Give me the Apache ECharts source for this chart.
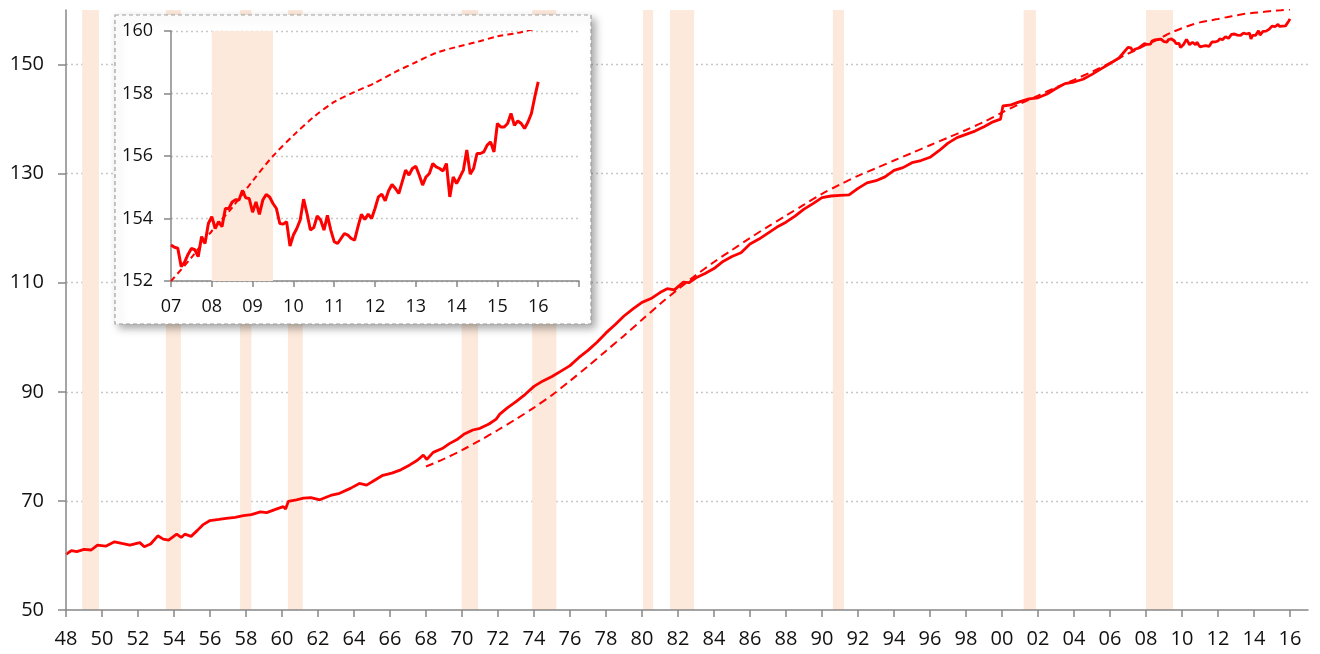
<!DOCTYPE html>
<html><head><meta charset="utf-8">
<script src="https://cdn.jsdelivr.net/npm/echarts@6/dist/echarts.min.js"></script>
<style>html,body{margin:0;padding:0;background:#fff}#c{width:1320px;height:654px}</style>
</head><body><div id="c"></div>
<script>
// Main series 1948-2006 (irregular sampling)
const mainYears = [1948.0,1948.3,1948.6,1949.0,1949.4,1949.75,1950.2,1950.7,1951.1,1951.55,1952.1,1952.35,1952.7,1953.1,1953.4,1953.7,1954.15,1954.4,1954.6,1954.95,1955.3,1955.6,1956.0,1956.5,1956.9,1957.4,1957.85,1958.3,1958.8,1959.15,1959.6,1960.07,1960.2,1960.35,1960.8,1961.2,1961.6,1962.1,1962.7,1963.2,1963.8,1964.3,1964.7,1965.1,1965.6,1966.1,1966.6,1967.1,1967.5,1967.85,1968.04,1968.4,1968.9,1969.3,1969.7,1970.1,1970.6,1971.0,1971.5,1971.9,1972.1,1972.5,1973.0,1973.5,1974.0,1974.5,1975.0,1975.5,1976.0,1976.5,1977.0,1977.5,1978.0,1978.5,1979.0,1979.5,1980.0,1980.5,1981.0,1981.4,1981.8,1982.3,1982.6,1983.0,1983.5,1984.0,1984.5,1985.0,1985.5,1986.0,1986.5,1987.0,1987.5,1988.0,1988.5,1989.0,1989.5,1990.0,1990.5,1991.0,1991.5,1992.0,1992.5,1993.0,1993.5,1994.0,1994.5,1995.0,1995.5,1996.0,1996.5,1997.0,1997.5,1998.0,1998.5,1999.0,1999.5,1999.92,2000.05,2000.5,2001.0,2001.5,2002.0,2002.5,2003.0,2003.5,2004.0,2004.5,2005.0,2005.5,2006.0,2006.5];
const mainValues = [60.2,60.9,60.7,61.1,61.0,61.9,61.7,62.5,62.2,61.9,62.35,61.6,62.1,63.6,63.0,62.8,63.9,63.3,63.9,63.5,64.6,65.6,66.4,66.6,66.8,67.0,67.3,67.5,68.0,67.85,68.4,68.95,68.5,69.9,70.2,70.5,70.6,70.2,71.0,71.4,72.3,73.2,72.9,73.7,74.7,75.1,75.7,76.6,77.4,78.4,77.6,78.9,79.6,80.5,81.2,82.2,83.0,83.3,84.1,85.0,85.9,87.0,88.2,89.5,91.0,92.0,92.8,93.8,94.8,96.3,97.6,99.1,100.8,102.3,103.9,105.2,106.4,107.1,108.2,108.9,108.7,110.1,110.0,110.9,111.7,112.6,113.9,114.8,115.5,117.1,118.0,119.1,120.2,121.1,122.2,123.5,124.5,125.6,125.9,126.0,126.1,127.3,128.3,128.7,129.4,130.6,131.1,132.0,132.4,133.0,134.2,135.6,136.6,137.2,137.8,138.6,139.5,140.0,142.4,142.6,143.2,143.7,143.9,144.6,145.6,146.5,146.8,147.3,148.2,149.2,150.2,151.2];
// Monthly values from Jan 2007 to Jan 2016
const monthlyStart = 2007;
const monthlyValues = [
153.15,153.08,153.05,152.46,152.6,152.85,153.04,153.0,152.78,153.42,153.2,153.84,
154.06,153.68,153.9,153.74,154.32,154.32,154.53,154.6,154.59,154.9,154.66,154.64,
154.2,154.53,154.13,154.59,154.77,154.69,154.48,154.32,153.84,153.82,153.9,153.12,
153.47,153.68,153.95,154.62,154.16,153.63,153.71,154.08,153.95,153.63,154.1,153.63,
153.26,153.2,153.36,153.52,153.47,153.36,153.31,153.74,154.13,153.97,154.14,154.0,
154.32,154.69,154.78,154.57,154.89,155.09,154.96,154.8,155.17,155.55,155.39,155.6,
155.67,155.39,155.07,155.33,155.44,155.76,155.65,155.6,155.52,155.76,154.69,155.33,
155.12,155.33,155.55,156.19,155.42,155.6,156.08,156.08,156.13,156.35,156.45,156.13,
157.04,156.93,156.93,157.04,157.36,156.98,157.12,157.04,156.88,157.09,157.36,157.89,
158.37];
// Trend (dashed)
const trendYears = [1968,1969,1970,1971,1972,1973,1974,1975,1976,1977,1978,1979,1980,1981,1982,1983,1984,1985,1986,1987,1988,1989,1990,1991,1992,1993,1994,1995,1996,1997,1998,1999,2000,2001,2002,2003,2004,2005,2006,2007,2007.5,2008,2008.5,2009,2009.5,2010,2010.5,2011,2011.5,2012,2012.5,2013,2013.5,2014,2014.5,2015,2015.5,2016];
const trendValues = [76.3,77.7,79.3,81.1,83.0,85.0,87.1,89.4,92.0,94.7,97.5,100.3,103.2,106.1,108.8,111.4,113.8,116.0,118.2,120.3,122.3,124.3,126.3,128.0,129.6,131.0,132.4,133.8,135.2,136.6,138.0,139.5,141.2,142.8,144.3,145.8,147.2,148.7,150.3,152.0,152.75,153.6,154.35,155.2,156.0,156.66,157.25,157.73,158.05,158.34,158.69,159.0,159.3,159.49,159.65,159.83,159.94,160.1];
// Recessions
const recessionStart = [1948.9,1953.55,1957.67,1960.33,1969.98,1973.9,1980.06,1981.56,1990.6,2001.2,2008.0];
const recessionEnd   = [1949.83,1954.38,1958.3,1961.15,1970.9,1975.24,1980.62,1982.9,1991.22,2001.88,2009.5];
// Tick labels
const mainXTicks = [1948,1950,1952,1954,1956,1958,1960,1962,1964,1966,1968,1970,1972,1974,1976,1978,1980,1982,1984,1986,1988,1990,1992,1994,1996,1998,2000,2002,2004,2006,2008,2010,2012,2014,2016];
const mainYTicks = [50,70,90,110,130,150];
const mainYGrid = [70,90,110,130,150];
const insetYTicks = [152,154,156,158,160];

const FONT = "'Open Sans', 'Noto Sans', sans-serif";
const AXC = '#878787';
const REC = '#FCE9DB';
const yy = v => String(Math.round(v) % 100).padStart(2, '0');

const mainData = mainYears.map((t, i) => [t, mainValues[i]])
  .concat(monthlyValues.map((v, i) => [monthlyStart + i / 12, v]));
const trendData = trendYears.map((t, i) => [t, trendValues[i]]);
const insetMain = monthlyValues.map((v, i) => [monthlyStart + i / 12, v]);
const insetTrend = trendData.filter(d => d[0] >= 2007);
const recAreas = recessionStart.map((s, i) => [{xAxis: s}, {xAxis: recessionEnd[i]}]);
const insetRec = recAreas.filter(a => a[1].xAxis > 2007);

const chart = echarts.init(document.getElementById('c'), null, {renderer: 'canvas'});
chart.setOption({
  animation: false,
  backgroundColor: '#fff',
  grid: [
    {left: 66, right: 12, top: 10, bottom: 44, containLabel: false},
    {left: 171, right: 741, top: 31, bottom: 373, containLabel: false}
  ],
  graphic: {elements: [{
    type: 'rect', z: 10, silent: true,
    shape: {x: 115, y: 15, width: 476, height: 309},
    style: {fill: '#fff', stroke: '#a0a0a0', lineWidth: 1.2, lineDash: [4, 3],
      shadowBlur: 8, shadowOffsetX: 4, shadowOffsetY: 4, shadowColor: 'rgba(0,0,0,0.35)'}
  }]},
  xAxis: [
    {type: 'value', gridIndex: 0, min: 1948, max: 2017, z: 4,
     axisLine: {show: true, onZero: false, lineStyle: {color: AXC, width: 1.5}},
     axisTick: {show: true, length: 7, customValues: mainXTicks, lineStyle: {color: AXC, width: 1.5}},
     axisLabel: {customValues: mainXTicks, formatter: yy, fontSize: 20, fontFamily: FONT, color: '#111', margin: 19},
     splitLine: {show: false}},
    {type: 'value', gridIndex: 1, min: 2007, max: 2017, interval: 1, z: 11,
     axisLine: {show: true, onZero: false, lineStyle: {color: AXC, width: 1.5}},
     axisTick: {show: true, length: 6, lineStyle: {color: AXC, width: 1.5}},
     axisLabel: {formatter: v => v >= 2017 ? '' : yy(v), fontSize: 18, fontFamily: FONT, color: '#111', margin: 17},
     splitLine: {show: false}}
  ],
  yAxis: [
    {type: 'value', gridIndex: 0, min: 50, max: 160, z: 4,
     axisLine: {show: true, onZero: false, lineStyle: {color: AXC, width: 1.5}},
     axisTick: {show: true, length: 8, customValues: mainYTicks, lineStyle: {color: AXC, width: 1.5}},
     axisLabel: {customValues: mainYTicks, fontSize: 20, fontFamily: FONT, color: '#111', margin: 22},
     splitLine: {show: false}},
    {type: 'value', gridIndex: 1, min: 152, max: 160, interval: 2, z: 11,
     axisLine: {show: true, onZero: false, lineStyle: {color: AXC, width: 1.5}},
     axisTick: {show: true, length: 7, lineStyle: {color: AXC, width: 1.5}},
     axisLabel: {fontSize: 18, fontFamily: FONT, color: '#111', margin: 18},
     splitLine: {show: true, lineStyle: {color: '#c8c8c8', type: [2, 3], width: 1.3}}}
  ],
  series: [
    {type: 'line', name: 'trend', xAxisIndex: 0, yAxisIndex: 0, z: 3, data: trendData,
     showSymbol: false, symbol: 'none', smooth: 0.3, clip: true,
     lineStyle: {color: '#FF0000', width: 2, type: [8, 5]}},
    {type: 'line', name: 'labor', xAxisIndex: 0, yAxisIndex: 0, z: 3, data: mainData,
     showSymbol: false, symbol: 'none', clip: true,
     lineStyle: {color: '#FF0000', width: 2.8},
     markArea: {silent: true, z: 2, itemStyle: {color: REC}, data: recAreas},
     markLine: {silent: true, z: 1, symbol: ['none', 'none'], label: {show: false},
       lineStyle: {color: '#c8c8c8', type: [2, 3], width: 1.3},
       data: mainYGrid.map(v => ({yAxis: v}))}},
    {type: 'line', name: 'insetTrend', xAxisIndex: 1, yAxisIndex: 1, z: 13, data: insetTrend,
     showSymbol: false, symbol: 'none', smooth: 0.3, clip: true,
     lineStyle: {color: '#FF0000', width: 2, type: [6, 4]}},
    {type: 'line', name: 'insetLabor', xAxisIndex: 1, yAxisIndex: 1, z: 14, data: insetMain,
     showSymbol: false, symbol: 'none', clip: true,
     lineStyle: {color: '#FF0000', width: 3},
     markArea: {silent: true, z: 12, itemStyle: {color: REC}, data: insetRec}}
  ]
});
</script>
</body></html>
